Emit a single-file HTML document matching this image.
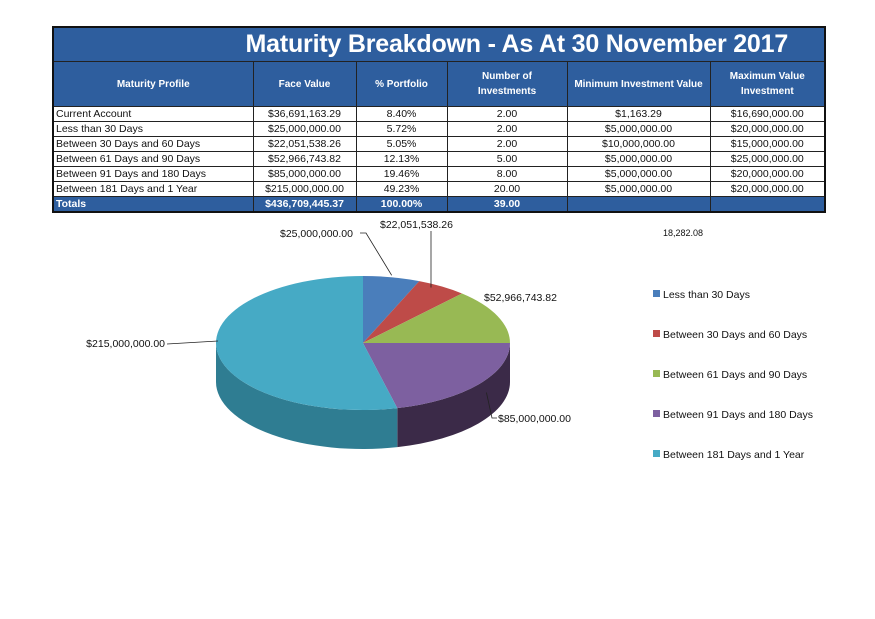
<!DOCTYPE html>
<html><head><meta charset="utf-8">
<style>
body{margin:0;width:875px;height:619px;background:#fff;font-family:"Liberation Sans",sans-serif;position:relative;overflow:hidden}
table{position:absolute;left:52px;top:26px;border-collapse:collapse;width:772px;table-layout:fixed;border:2px solid #111}
td,th{border:1px solid #222;font-size:10.5px;padding:0 2px;height:14px;line-height:14px;white-space:nowrap;overflow:hidden}
td{text-align:center;color:#111}
td.l{text-align:left}
.title{background:#2e5e9e;color:#fff;font-size:25px;font-weight:bold;height:33px;text-align:right;padding-right:36px;line-height:33px;letter-spacing:-0.2px}
th{background:#2e5e9e;color:#fff;font-size:10px;font-weight:bold;height:44px;line-height:15px;white-space:normal}
tr.tot td{background:#2e5e9e;color:#fff;font-weight:bold}
svg{position:absolute;left:0;top:0}
svg text{font-family:"Liberation Sans",sans-serif;font-size:10.5px;fill:#111}
</style></head><body>
<table>
<colgroup><col style="width:200px"><col style="width:103px"><col style="width:91px"><col style="width:120px"><col style="width:143px"><col style="width:115px"></colgroup>
<tr><td colspan="6" class="title">Maturity Breakdown - As At 30 November 2017</td></tr>
<tr><th>Maturity Profile</th><th>Face Value</th><th>% Portfolio</th><th>Number of<br>Investments</th><th>Minimum Investment Value</th><th>Maximum Value<br>Investment</th></tr>
<tr><td class="l">Current Account</td><td>$36,691,163.29</td><td>8.40%</td><td>2.00</td><td>$1,163.29</td><td>$16,690,000.00</td></tr>
<tr><td class="l">Less than 30 Days</td><td>$25,000,000.00</td><td>5.72%</td><td>2.00</td><td>$5,000,000.00</td><td>$20,000,000.00</td></tr>
<tr><td class="l">Between 30 Days and 60 Days</td><td>$22,051,538.26</td><td>5.05%</td><td>2.00</td><td>$10,000,000.00</td><td>$15,000,000.00</td></tr>
<tr><td class="l">Between 61 Days and 90 Days</td><td>$52,966,743.82</td><td>12.13%</td><td>5.00</td><td>$5,000,000.00</td><td>$25,000,000.00</td></tr>
<tr><td class="l">Between 91 Days and 180 Days</td><td>$85,000,000.00</td><td>19.46%</td><td>8.00</td><td>$5,000,000.00</td><td>$20,000,000.00</td></tr>
<tr><td class="l">Between 181 Days and 1 Year</td><td>$215,000,000.00</td><td>49.23%</td><td>20.00</td><td>$5,000,000.00</td><td>$20,000,000.00</td></tr>
<tr class="tot"><td class="l">Totals</td><td>$436,709,445.37</td><td>100.00%</td><td>39.00</td><td></td><td></td></tr>
</table>
<svg id="chart" width="875" height="619">
<text x="663" y="236" style="font-size:9px">18,282.08</text>
</svg>
<script>
const categories=["Less than 30 Days","Between 30 Days and 60 Days","Between 61 Days and 90 Days","Between 91 Days and 180 Days","Between 181 Days and 1 Year"];
const values=[25000000,22051538.26,52966743.82,85000000,215000000];
const labels=["$25,000,000.00","$22,051,538.26","$52,966,743.82","$85,000,000.00","$215,000,000.00"];
const colors=["#4a7ebb","#be4b48","#98b954","#7d60a0","#46aac5"];
const sideColors=["#2f5583","#843230","#687f3a","#3b2a48","#2f7d92"];
const NS="http://www.w3.org/2000/svg";
const svg=document.getElementById('chart');
const cx=363,cy=343,rx=147,ry=67,depth=39;
const total=values.reduce((a,b)=>a+b,0);
function pt(a,dy){return [cx+rx*Math.sin(a),cy-ry*Math.cos(a)+(dy||0)];}
function mk(tag,attrs){const e=document.createElementNS(NS,tag);for(const k in attrs)e.setAttribute(k,attrs[k]);svg.appendChild(e);return e;}
let acc=0;const angs=[];
values.forEach(v=>{const a0=acc/total*2*Math.PI;acc+=v;angs.push([a0,acc/total*2*Math.PI]);});
angs.forEach((g,i)=>{
  const s=Math.max(g[0],Math.PI/2),e=Math.min(g[1],3*Math.PI/2);
  if(e<=s)return;
  const p0=pt(s),p1=pt(e),q1=pt(e,depth),q0=pt(s,depth);
  const lg=(e-s)>Math.PI?1:0;
  const el=mk('path',{d:`M${p0} A${rx},${ry} 0 ${lg} 1 ${p1} L${q1} A${rx},${ry} 0 ${lg} 0 ${q0} Z`,fill:sideColors[i]});
  
  
});
angs.forEach((g,i)=>{
  const p0=pt(g[0]),p1=pt(g[1]);
  const lg=(g[1]-g[0])>Math.PI?1:0;
  const el=mk('path',{d:`M${cx},${cy} L${p0} A${rx},${ry} 0 ${lg} 1 ${p1} Z`,fill:colors[i]});
  
  
});
const lab=[{x:280,y:237,a:'start',lx:[360,233,0]},{x:380,y:228,a:'start',lx:[431,231,1]},{x:484,y:301,a:'start',lx:null},{x:498,y:422,a:'start',lx:[497,418,2]},{x:165,y:347,a:'end',lx:[167,344,3]}];
angs.forEach((g,i)=>{
  const m=(g[0]+g[1])/2;const p=pt(m);const L=lab[i];
  if(L.lx){let d;
    if(L.lx[2]===0)d=`M${L.lx[0]},${L.lx[1]} L${L.lx[0]+6},${L.lx[1]} L${p[0]},${p[1]-2}`;
    else if(L.lx[2]===1)d=`M${L.lx[0]},${L.lx[1]} L${L.lx[0]},${p[1]+1}`;
    else if(L.lx[2]===2)d=`M${L.lx[0]},${L.lx[1]} L${L.lx[0]-5},${L.lx[1]} L${p[0]+8},${p[1]+8}`;
    else d=`M${L.lx[0]},${L.lx[1]} L${pt(-Math.PI/2)[0]+2},${L.lx[1]-3}`;
    const ln=mk('path',{d:d,stroke:'#222','stroke-width':0.8,fill:'none'});
    
    }
  const t=mk('text',{x:L.x,y:L.y,'text-anchor':L.a});t.textContent=labels[i];
  
  
});
categories.forEach((c,i)=>{
  const y=294+i*40;
  const r=mk('rect',{x:653,y:y-4,width:7,height:7,fill:colors[i]});
  
  
  const t=mk('text',{x:663,y:y+4});t.textContent=c;
  
  
});
</script>
</body></html>
